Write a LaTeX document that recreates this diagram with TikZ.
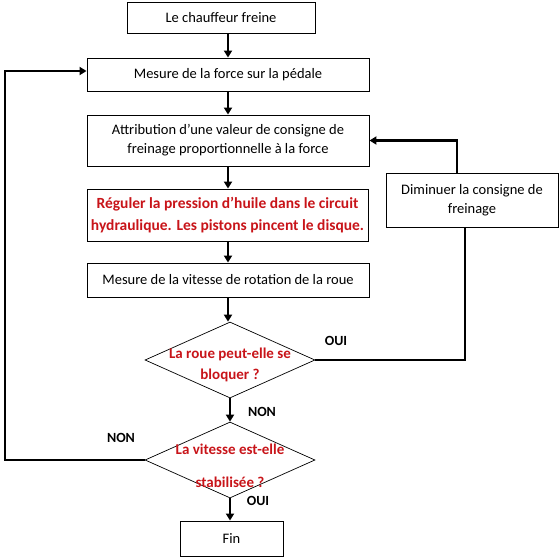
\documentclass[tikz,border=0pt]{standalone}
\usepackage{fontspec}
\setmainfont{Carlito}
\usetikzlibrary{shapes.geometric,arrows.meta}
\definecolor{redtxt}{RGB}{200,20,25}
\tikzset{
  box/.style={draw,line width=0.9pt,inner sep=0pt,align=center,font=\fontsize{14.5}{19}\selectfont},
  dia/.style={draw,diamond,line width=0.7pt,inner sep=0pt,minimum width=170pt,minimum height=76pt},
  redt/.style={text=redtxt,font=\bfseries\fontsize{15}{21}\selectfont,align=center},
  lbl/.style={font=\bfseries\fontsize{14}{16}\selectfont},
  conn/.style={line width=2.7pt,-{Triangle[length=7pt,width=8pt]}},
  line/.style={line width=2.7pt},
}
\begin{document}
\begin{tikzpicture}[x=1pt,y=-1pt]
\useasboundingbox (0,0) rectangle (560,557);
\node[box,minimum width=188pt,minimum height=31pt] (b1) at (221,17.5) {Le chauffeur freine};
\node[box,minimum width=282pt,minimum height=33pt] (b2) at (228,74.5) {Mesure de la force sur la pédale};
\node[box,minimum width=282pt,minimum height=51pt] (b3) at (228,140.5) {Attribution d’une valeur de consigne de\\freinage proportionnelle à la force};
\node[box,minimum width=281pt,minimum height=52pt,redt,font=\bfseries\fontsize{15.5}{22}\selectfont] (b4) at (227.5,215) {Réguler la pression d’huile dans le circuit\\hydraulique. Les pistons pincent le disque.};
\node[box,minimum width=282pt,minimum height=34pt] (b5) at (228,280) {Mesure de la vitesse de rotation de la roue};
\node[box,minimum width=172pt,minimum height=54pt] (dim) at (472,200) {Diminuer la consigne de\\freinage};
\node[dia] (d1) at (230,360) {};
\node[redt] (t1) at (230,365) {La roue peut-elle se\\bloquer ?};
\node[dia] (d2) at (230,460) {};
\node[redt,font=\bfseries\fontsize{15}{33}\selectfont] (t2) at (230,466) {La vitesse est-elle\\stabilisée ?};
\node[box,minimum width=103pt,minimum height=35pt] (fin) at (231.5,538.5) {Fin};

\node[lbl] (oui1) at (336,341) {OUI};
\node[lbl] (non1) at (262,412) {NON};
\node[lbl] (non2) at (121,438) {NON};
\node[lbl] (oui2) at (258,501) {OUI};

\coordinate (ax) at (228,0);
\draw[conn] (b1.south -| ax) -- (b2.north -| ax);
\draw[conn] (b2.south -| ax) -- (b3.north -| ax);
\draw[conn] (b3.south -| ax) -- (b4.north -| ax);
\draw[conn] (b4.south -| ax) -- (b5.north -| ax);
\draw[conn] (b5.south -| ax) -- (d1.north -| ax);
\draw[conn] (d1.south) -- (d2.north);
\draw[conn] (d2.south) -- (fin.north -| d2.south);

\coordinate (r1) at (465,0);
\coordinate (r2) at (457,0);
\draw[line] (d1.east) -- (d1.east -| r1) -- (dim.south -| r1);
\draw[conn] (dim.north -| r2) -- (r2 |- b3.east) -- (b3.east);
\coordinate (lx) at (5,0);
\coordinate (ly) at (0,71);
\draw[conn] (d2.west) -- (d2.west -| lx) -- (lx |- ly) -- (b2.west |- ly);
\end{tikzpicture}
\end{document}
